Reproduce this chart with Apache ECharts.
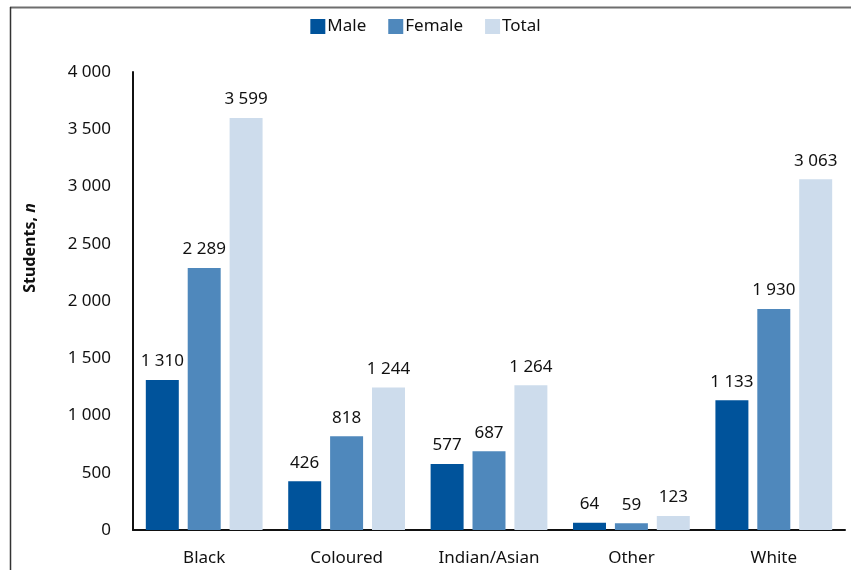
<!DOCTYPE html>
<html>
<head>
<meta charset="utf-8">
<script src="https://cdn.jsdelivr.net/npm/echarts@6/dist/echarts.min.js"></script>
<style>html,body{margin:0;padding:0;background:#fff}#c{width:851px;height:570px}</style>
</head>
<body>
<div id="c"></div>
<script>
const categories = ['Black', 'Coloured', 'Indian/Asian', 'Other', 'White'];
const male = [1310, 426, 577, 64, 1133];
const female = [2289, 818, 687, 59, 1930];
const total = [3599, 1244, 1264, 123, 3063];
const seriesNames = ['Male', 'Female', 'Total'];
const colors = ['#00539b', '#4f88bc', '#cddcec'];

const fmt = v => String(v).replace(/\B(?=(\d{3})+(?!\d))/g, ' ');
const FONT = 'Noto Sans';

const chart = echarts.init(document.getElementById('c'));
const mk = (name, data, color) => ({
  name, type: 'bar', data,
  itemStyle: { color },
  barGap: '27%', barCategoryGap: '18%',
  label: { show: true, position: 'top', distance: 10, color: '#111', fontSize: 17, fontFamily: FONT,
    formatter: p => fmt(p.value) }
});
chart.setOption({
  animation: false,
  textStyle: { fontFamily: FONT },
  legend: {
    top: 13, left: 'center', itemWidth: 15, itemHeight: 15, itemGap: 22,
    icon: 'rect',
    textStyle: { fontSize: 17, color: '#111', fontFamily: FONT, padding: [0, 0, 0, -3] },
    data: seriesNames
  },
  grid: { left: 133, right: 6, top: 72, bottom: 40, containLabel: false },
  xAxis: {
    type: 'category', data: categories,
    axisLine: { lineStyle: { color: '#111', width: 2 } },
    axisTick: { show: false },
    axisLabel: { fontSize: 17, color: '#111', margin: 20, fontFamily: FONT }
  },
  yAxis: {
    type: 'value', min: 0, max: 4000, interval: 500,
    axisLine: { show: true, lineStyle: { color: '#111', width: 2 } },
    axisTick: { show: false },
    splitLine: { show: false },
    axisLabel: { fontSize: 17, color: '#111', margin: 22, fontFamily: FONT, formatter: v => fmt(v) }
  },
  graphic: [
    { type: 'line', shape: { x1: 10, y1: 7.5, x2: 851, y2: 7.5 }, style: { stroke: '#6e6e6e', lineWidth: 2 } },
    { type: 'line', shape: { x1: 10.5, y1: 7, x2: 10.5, y2: 570 }, style: { stroke: '#333', lineWidth: 1.5 } },
    { type: 'text', x: 30, y: 248, rotation: Math.PI / 2,
      style: { text: '{b|Students, }{i|n}', align: 'center', verticalAlign: 'middle',
        rich: {
          b: { fontSize: 16, fontWeight: 'bold', fill: '#111', fontFamily: FONT },
          i: { fontSize: 16, fontWeight: 'bold', fontStyle: 'italic', fill: '#111', fontFamily: FONT }
        } } }
  ],
  series: [mk(seriesNames[0], male, colors[0]), mk(seriesNames[1], female, colors[1]), mk(seriesNames[2], total, colors[2])]
});
</script>
</body>
</html>
